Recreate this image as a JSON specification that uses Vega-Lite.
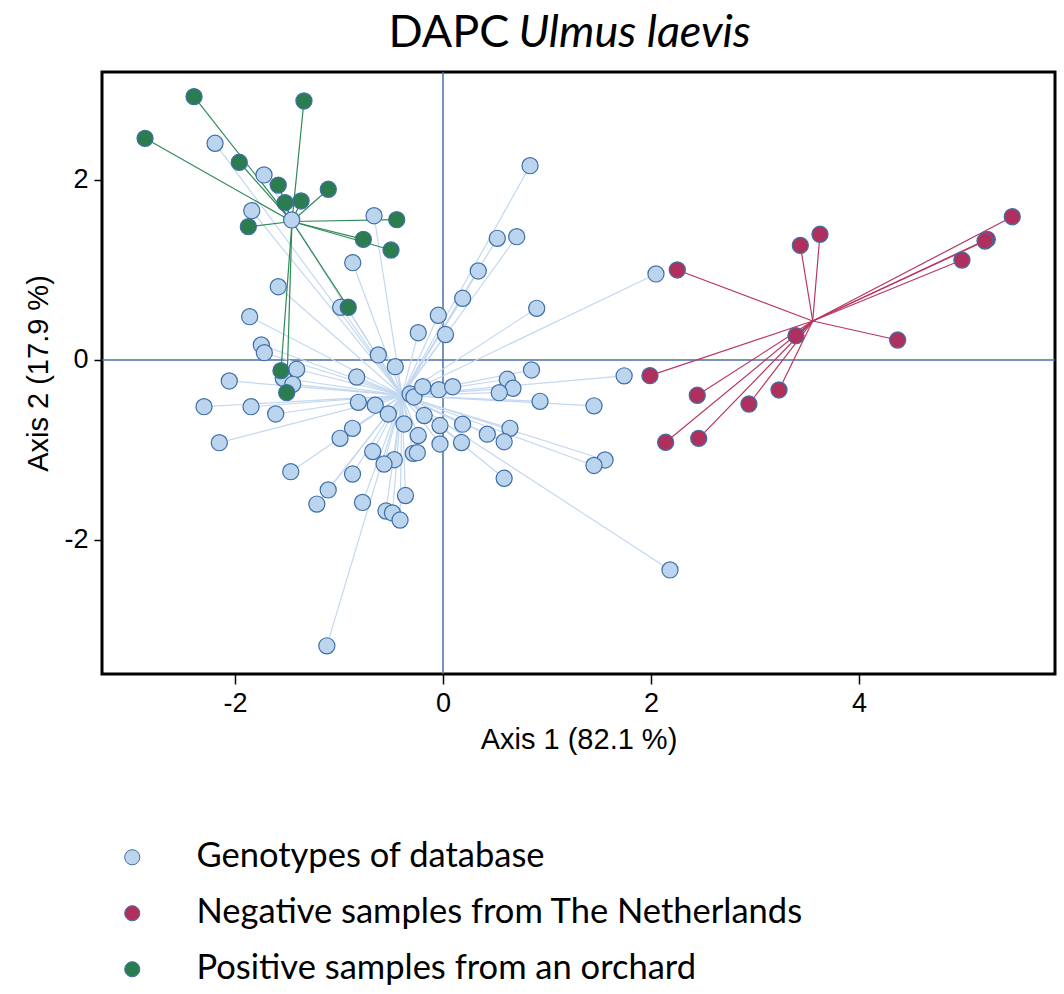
{
  "$schema": "https://vega.github.io/schema/vega-lite/v6.json",
  "width": 953,
  "height": 602,
  "autosize": {"type": "none"},
  "padding": {"left": 102, "top": 72, "right": 9, "bottom": 320},
  "background": "white",
  "config": {
    "view": {"stroke": "black", "strokeWidth": 3},
    "legend": {"padding": 0}
  },
  "datasets": {
    "pts": [
      {"g": "Genotypes of database", "x": -2.192, "y": 2.408},
      {"g": "Genotypes of database", "x": -1.721, "y": 2.056},
      {"g": "Genotypes of database", "x": -1.839, "y": 1.659},
      {"g": "Genotypes of database", "x": -1.455, "y": 1.556},
      {"g": "Genotypes of database", "x": -0.663, "y": 1.603},
      {"g": "Genotypes of database", "x": -0.868, "y": 1.081},
      {"g": "Genotypes of database", "x": -1.584, "y": 0.814},
      {"g": "Genotypes of database", "x": -0.984, "y": 0.586},
      {"g": "Genotypes of database", "x": -1.859, "y": 0.481},
      {"g": "Genotypes of database", "x": -1.747, "y": 0.167},
      {"g": "Genotypes of database", "x": -1.718, "y": 0.081},
      {"g": "Genotypes of database", "x": -0.622, "y": 0.056},
      {"g": "Genotypes of database", "x": -0.459, "y": -0.074},
      {"g": "Genotypes of database", "x": -0.238, "y": 0.303},
      {"g": "Genotypes of database", "x": -0.045, "y": 0.497},
      {"g": "Genotypes of database", "x": 0.024, "y": 0.283},
      {"g": "Genotypes of database", "x": -1.407, "y": -0.103},
      {"g": "Genotypes of database", "x": -1.536, "y": -0.203},
      {"g": "Genotypes of database", "x": -1.445, "y": -0.27},
      {"g": "Genotypes of database", "x": -2.055, "y": -0.233},
      {"g": "Genotypes of database", "x": -2.298, "y": -0.519},
      {"g": "Genotypes of database", "x": -1.846, "y": -0.519},
      {"g": "Genotypes of database", "x": -1.609, "y": -0.6},
      {"g": "Genotypes of database", "x": -2.151, "y": -0.919},
      {"g": "Genotypes of database", "x": -0.83, "y": -0.189},
      {"g": "Genotypes of database", "x": -0.317, "y": -0.378},
      {"g": "Genotypes of database", "x": -0.279, "y": -0.411},
      {"g": "Genotypes of database", "x": -0.195, "y": -0.297},
      {"g": "Genotypes of database", "x": -0.041, "y": -0.33},
      {"g": "Genotypes of database", "x": 0.093, "y": -0.297},
      {"g": "Genotypes of database", "x": -0.814, "y": -0.47},
      {"g": "Genotypes of database", "x": -0.652, "y": -0.502},
      {"g": "Genotypes of database", "x": -0.526, "y": -0.6},
      {"g": "Genotypes of database", "x": -0.375, "y": -0.711},
      {"g": "Genotypes of database", "x": -0.181, "y": -0.617},
      {"g": "Genotypes of database", "x": -0.029, "y": -0.728},
      {"g": "Genotypes of database", "x": -0.238, "y": -0.839},
      {"g": "Genotypes of database", "x": -0.029, "y": -0.933},
      {"g": "Genotypes of database", "x": -0.87, "y": -0.759},
      {"g": "Genotypes of database", "x": -0.99, "y": -0.87},
      {"g": "Genotypes of database", "x": -0.676, "y": -1.017},
      {"g": "Genotypes of database", "x": -0.468, "y": -1.108},
      {"g": "Genotypes of database", "x": -0.567, "y": -1.156},
      {"g": "Genotypes of database", "x": -0.286, "y": -1.037},
      {"g": "Genotypes of database", "x": -0.247, "y": -1.03},
      {"g": "Genotypes of database", "x": -1.464, "y": -1.241},
      {"g": "Genotypes of database", "x": -0.87, "y": -1.267},
      {"g": "Genotypes of database", "x": -1.104, "y": -1.444},
      {"g": "Genotypes of database", "x": -1.213, "y": -1.601},
      {"g": "Genotypes of database", "x": -0.774, "y": -1.583},
      {"g": "Genotypes of database", "x": -0.361, "y": -1.506},
      {"g": "Genotypes of database", "x": -0.548, "y": -1.678},
      {"g": "Genotypes of database", "x": -0.486, "y": -1.7},
      {"g": "Genotypes of database", "x": -0.413, "y": -1.778},
      {"g": "Genotypes of database", "x": -1.117, "y": -3.176},
      {"g": "Genotypes of database", "x": 0.851, "y": -0.111},
      {"g": "Genotypes of database", "x": 0.618, "y": -0.214},
      {"g": "Genotypes of database", "x": 0.673, "y": -0.314},
      {"g": "Genotypes of database", "x": 0.541, "y": -0.363},
      {"g": "Genotypes of database", "x": 0.933, "y": -0.459},
      {"g": "Genotypes of database", "x": 0.188, "y": -0.713},
      {"g": "Genotypes of database", "x": 0.426, "y": -0.824},
      {"g": "Genotypes of database", "x": 0.644, "y": -0.759},
      {"g": "Genotypes of database", "x": 0.588, "y": -0.908},
      {"g": "Genotypes of database", "x": 0.178, "y": -0.917},
      {"g": "Genotypes of database", "x": 0.588, "y": -1.314},
      {"g": "Genotypes of database", "x": 1.742, "y": -0.176},
      {"g": "Genotypes of database", "x": 1.452, "y": -0.509},
      {"g": "Genotypes of database", "x": 1.558, "y": -1.111},
      {"g": "Genotypes of database", "x": 1.452, "y": -1.172},
      {"g": "Genotypes of database", "x": 2.183, "y": -2.333},
      {"g": "Genotypes of database", "x": 0.837, "y": 2.159},
      {"g": "Genotypes of database", "x": 0.522, "y": 1.352},
      {"g": "Genotypes of database", "x": 0.709, "y": 1.37},
      {"g": "Genotypes of database", "x": 0.339, "y": 0.989},
      {"g": "Genotypes of database", "x": 0.189, "y": 0.686},
      {"g": "Genotypes of database", "x": 0.901, "y": 0.574},
      {"g": "Genotypes of database", "x": 2.048, "y": 0.956},
      {"g": "Negative samples from The Netherlands", "x": 5.474, "y": 1.592},
      {"g": "Negative samples from The Netherlands", "x": 5.234, "y": 1.341},
      {"g": "Negative samples from The Netherlands", "x": 5.212, "y": 1.322},
      {"g": "Negative samples from The Netherlands", "x": 4.99, "y": 1.111},
      {"g": "Negative samples from The Netherlands", "x": 3.625, "y": 1.397},
      {"g": "Negative samples from The Netherlands", "x": 3.436, "y": 1.274},
      {"g": "Negative samples from The Netherlands", "x": 2.253, "y": 1.0},
      {"g": "Negative samples from The Netherlands", "x": 3.394, "y": 0.27},
      {"g": "Negative samples from The Netherlands", "x": 4.372, "y": 0.222},
      {"g": "Negative samples from The Netherlands", "x": 1.99, "y": -0.174},
      {"g": "Negative samples from The Netherlands", "x": 2.445, "y": -0.392},
      {"g": "Negative samples from The Netherlands", "x": 3.231, "y": -0.333},
      {"g": "Negative samples from The Netherlands", "x": 2.942, "y": -0.489},
      {"g": "Negative samples from The Netherlands", "x": 2.141, "y": -0.914},
      {"g": "Negative samples from The Netherlands", "x": 2.459, "y": -0.87},
      {"g": "Positive samples from an orchard", "x": -2.394, "y": 2.926},
      {"g": "Positive samples from an orchard", "x": -1.337, "y": 2.878},
      {"g": "Positive samples from an orchard", "x": -2.865, "y": 2.463},
      {"g": "Positive samples from an orchard", "x": -1.959, "y": 2.197},
      {"g": "Positive samples from an orchard", "x": -1.584, "y": 1.944},
      {"g": "Positive samples from an orchard", "x": -1.103, "y": 1.897},
      {"g": "Positive samples from an orchard", "x": -1.519, "y": 1.748},
      {"g": "Positive samples from an orchard", "x": -1.365, "y": 1.767},
      {"g": "Positive samples from an orchard", "x": -1.872, "y": 1.481},
      {"g": "Positive samples from an orchard", "x": -0.445, "y": 1.559},
      {"g": "Positive samples from an orchard", "x": -0.766, "y": 1.341},
      {"g": "Positive samples from an orchard", "x": -0.5, "y": 1.222},
      {"g": "Positive samples from an orchard", "x": -0.911, "y": 0.586},
      {"g": "Positive samples from an orchard", "x": -1.558, "y": -0.119},
      {"g": "Positive samples from an orchard", "x": -1.503, "y": -0.363}
    ],
    "cen": [
      {"g": "Genotypes of database", "cx": -0.394, "cy": -0.394},
      {"g": "Negative samples from The Netherlands", "cx": 3.555, "cy": 0.433},
      {"g": "Positive samples from an orchard", "cx": -1.452, "cy": 1.539}
    ],
    "zero": [{"v": 0}]
  },
  "layer": [
    {
      "data": {"name": "zero"},
      "mark": {"type": "rule", "color": "#4a6ea6", "strokeWidth": 1.5},
      "encoding": {
        "x": {
          "field": "v",
          "type": "quantitative",
          "scale": {"domain": [-3.279, 5.885], "nice": false, "zero": false},
          "axis": {
            "orient": "top",
            "title": "DAPC",
            "labels": false,
            "ticks": false,
            "domain": false,
            "grid": false,
            "titleFont": "Lato",
            "titleFontSize": 45,
            "titleFontWeight": "normal",
            "titleColor": "black",
            "titleAnchor": "start",
            "titleAlign": "left",
            "titleBaseline": "alphabetic",
            "titleX": 286,
            "titleY": -26,
            "titleAngle": 0
          }
        }
      }
    },
    {
      "data": {"name": "zero"},
      "mark": {"type": "rule", "color": "#4a6ea6", "strokeWidth": 1.5},
      "encoding": {
        "y": {
          "field": "v",
          "type": "quantitative",
          "scale": {"domain": [-3.489, 3.2], "nice": false, "zero": false},
          "axis": {
            "orient": "right",
            "title": "Ulmus laevis",
            "labels": false,
            "ticks": false,
            "domain": false,
            "grid": false,
            "titleFont": "Lato",
            "titleFontSize": 45,
            "titleFontStyle": "italic",
            "titleFontWeight": "normal",
            "titleColor": "black",
            "titleAnchor": "start",
            "titleAlign": "left",
            "titleBaseline": "alphabetic",
            "titleX": -537,
            "titleY": -26,
            "titleAngle": 0
          }
        }
      }
    },
    {
      "data": {"name": "pts"},
      "transform": [
        {"lookup": "g", "from": {"data": {"name": "cen"}, "key": "g", "fields": ["cx", "cy"]}}
      ],
      "mark": {"type": "rule", "strokeWidth": 1.2},
      "encoding": {
        "x": {
          "field": "x",
          "type": "quantitative",
          "scale": {"domain": [-3.279, 5.885], "nice": false, "zero": false},
          "axis": null
        },
        "y": {
          "field": "y",
          "type": "quantitative",
          "scale": {"domain": [-3.489, 3.2], "nice": false, "zero": false},
          "axis": null
        },
        "x2": {"field": "cx"},
        "y2": {"field": "cy"},
        "stroke": {
          "field": "g",
          "type": "nominal",
          "scale": {
            "domain": ["Positive samples from an orchard", "Negative samples from The Netherlands", "Genotypes of database"],
            "range": ["#2f8a55", "#b8375f", "#c3d8f0"]
          },
          "legend": null
        }
      }
    },
    {
      "data": {"name": "pts"},
      "mark": {"type": "point", "filled": true, "shape": "circle", "size": 260, "opacity": 1, "stroke": "#3f6ea6", "strokeWidth": 1.2},
      "encoding": {
        "x": {
          "field": "x",
          "type": "quantitative",
          "scale": {"domain": [-3.279, 5.885], "nice": false, "zero": false},
          "axis": {
            "orient": "bottom",
            "values": [-2, 0, 2, 4],
            "labelExpr": "'' + datum.value",
            "title": "Axis 1 (82.1 %)",
            "grid": false,
            "domain": false,
            "tickColor": "black",
            "tickWidth": 1.5,
            "tickSize": 10,
            "labelFont": "Liberation Sans",
            "labelFontSize": 27,
            "labelColor": "black",
            "labelPadding": 6,
            "titleFont": "Liberation Sans",
            "titleFontSize": 29,
            "titleFontWeight": "normal",
            "titleColor": "black",
            "titlePadding": 9
          }
        },
        "y": {
          "field": "y",
          "type": "quantitative",
          "scale": {"domain": [-3.489, 3.2], "nice": false, "zero": false},
          "axis": {
            "orient": "left",
            "values": [-2, 0, 2],
            "labelExpr": "'' + datum.value",
            "title": "Axis 2 (17.9 %)",
            "grid": false,
            "domain": false,
            "tickColor": "black",
            "tickWidth": 1.5,
            "tickSize": 8,
            "labelFont": "Liberation Sans",
            "labelFontSize": 27,
            "labelColor": "black",
            "labelPadding": 6,
            "titleFont": "Liberation Sans",
            "titleFontSize": 29,
            "titleFontWeight": "normal",
            "titleColor": "black",
            "titlePadding": 10
          }
        },
        "color": {
          "field": "g",
          "type": "nominal",
          "scale": {
            "domain": ["Genotypes of database", "Negative samples from The Netherlands", "Positive samples from an orchard"],
            "range": ["#bcd5ef", "#b0305d", "#2b7d50"]
          },
          "legend": {
            "title": null,
            "orient": "none",
            "legendX": 13,
            "legendY": 768,
            "direction": "vertical",
            "symbolType": "circle",
            "symbolSize": 230,
            "symbolStrokeColor": "#3f6ea6",
            "symbolStrokeWidth": 1,
            "symbolOpacity": 1,
            "labelFont": "Lato",
            "labelFontSize": 34.5,
            "labelColor": "black",
            "labelOffset": 47,
            "rowPadding": 21,
            "labelLimit": 900
          }
        }
      }
    }
  ],
  "resolve": {"axis": {"x": "independent", "y": "independent"}}
}
